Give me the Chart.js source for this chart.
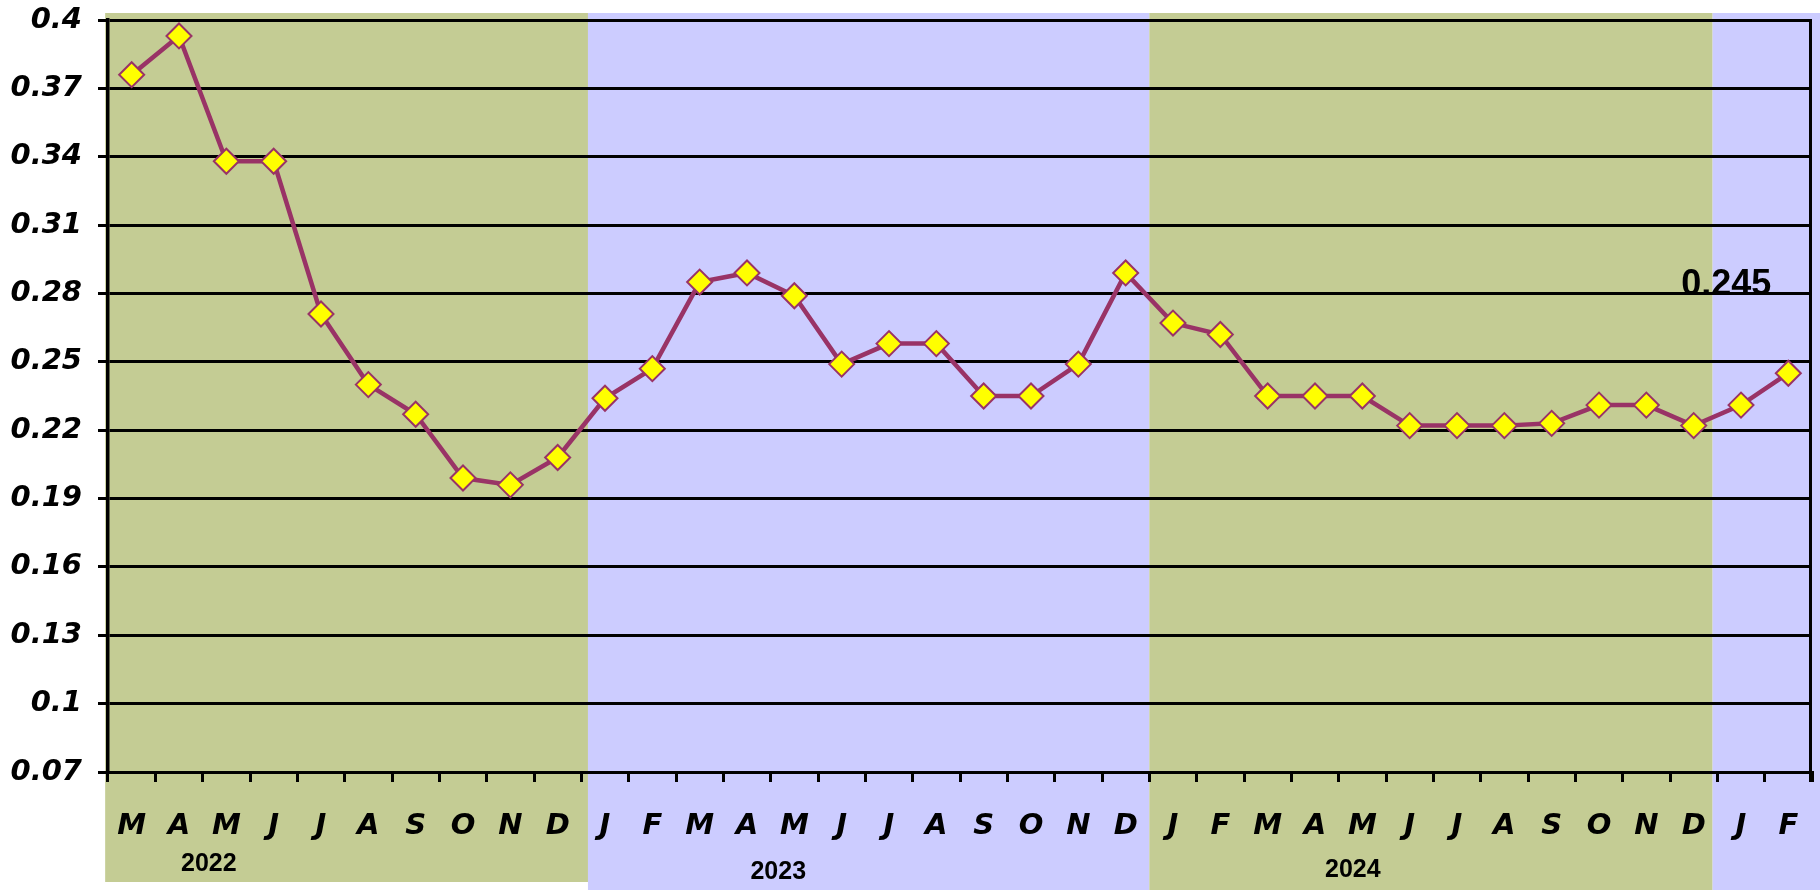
<!DOCTYPE html>
<html><head><meta charset="utf-8">
<script src="https://cdn.jsdelivr.net/npm/chart.js@4/dist/chart.umd.min.js"></script>
<style>html,body{margin:0;padding:0;background:#fff;overflow:hidden}</style>
</head><body>
<canvas id="c" width="1820" height="890"></canvas>
<script>
const months = ['M','A','M','J','J','A','S','O','N','D',
  'J','F','M','A','M','J','J','A','S','O','N','D',
  'J','F','M','A','M','J','J','A','S','O','N','D',
  'J','F'];
const values = [0.376,0.393,0.338,0.338,0.271,0.240,0.227,0.199,0.196,0.208,
  0.234,0.247,0.285,0.289,0.279,0.249,0.258,0.258,0.235,0.235,0.249,0.289,
  0.267,0.262,0.235,0.235,0.235,0.222,0.222,0.222,0.223,0.231,0.231,0.222,
  0.231,0.245];
const years = ['2022','2023','2024'];
const yTickValues = [0.07,0.10,0.13,0.16,0.19,0.22,0.25,0.28,0.31,0.34,0.37,0.40];
const yTickLabels = ['0.07','0.1','0.13','0.16','0.19','0.22','0.25','0.28','0.31','0.34','0.37','0.4'];
const lastLabel = '0.245';

const GREEN = '#C4CC94', BLUE = '#CCCCFF';

const decor = {
  id: 'decor',
  beforeDraw(chart, args, o) {
    const {ctx, scales:{x}} = chart;
    ctx.save();
    o.bands.forEach(b => {
      const x0 = x.getPixelForValue(b.from), x1 = x.getPixelForValue(b.to);
      ctx.fillStyle = b.color;
      ctx.fillRect(x0, b.top, x1 - x0, b.bottom - b.top);
    });
    ctx.restore();
  },
  afterDraw(chart, args, o) {
    const {ctx, chartArea:a, scales:{x, y}} = chart;
    ctx.save();
    ctx.strokeStyle = '#000'; ctx.lineWidth = 3;
    ctx.beginPath(); ctx.moveTo(a.right - 1.5, a.top - 1); ctx.lineTo(a.right - 1.5, a.bottom + 10); ctx.stroke();
    ctx.fillStyle = '#000'; ctx.textAlign = 'center'; ctx.textBaseline = 'middle';
    ctx.font = 'bold 25px "Liberation Sans", Arial, sans-serif';
    years.forEach((t, i) => ctx.fillText(t, x.getPixelForValue(o.yearPos[i]), o.yearY[i]));
    const last = values.length - 1;
    ctx.font = 'bold 36px "Liberation Sans", Arial, sans-serif';
    ctx.fillText(lastLabel, x.getPixelForValue(last) + o.labelDx, y.getPixelForValue(values[last]) + o.labelDy);
    ctx.restore();
  }
};

const tickFont = {family: '"DejaVu Sans", sans-serif', size: 29, style: 'italic', weight: 'bold'};

new Chart(document.getElementById('c'), {
  type: 'line',
  data: {
    labels: months,
    datasets: [{
      data: values,
      borderColor: '#993366',
      borderWidth: 4.5,
      tension: 0,
      pointStyle: 'rectRot',
      pointRadius: 12.5,
      pointBackgroundColor: '#FFFF00',
      pointBorderColor: '#993366',
      pointBorderWidth: 2,
      clip: false
    }]
  },
  options: {
    responsive: false,
    animation: false,
    devicePixelRatio: 1,
    layout: {autoPadding: false, padding: {top: 20, right: 8, left: 0, bottom: 0}},
    plugins: {
      legend: {display: false},
      tooltip: {enabled: false},
      decor: {
        bands: [
          {from: -0.56, to: 9.64, color: GREEN, top: 13, bottom: 882},
          {from: 9.64, to: 21.5, color: BLUE, top: 13, bottom: 890},
          {from: 21.5, to: 33.4, color: GREEN, top: 13, bottom: 890},
          {from: 33.4, to: 35.9, color: BLUE, top: 13, bottom: 890}
        ],
        yearPos: [1.63, 13.66, 25.8],
        yearY: [864, 872, 870],
        labelDx: -62,
        labelDy: -88
      }
    },
    scales: {
      x: {
        type: 'category',
        offset: true,
        grid: {display: true, offset: true, drawOnChartArea: false, drawTicks: true, tickLength: 10, color: '#000', lineWidth: 3},
        border: {display: true, color: '#000', width: 3},
        ticks: {color: '#000', font: tickFont, padding: 27, maxRotation: 0, autoSkip: false},
        afterFit(s) { s.height = 118; s.paddingLeft = 0; s.paddingRight = 0; }
      },
      y: {
        min: 0.07, max: 0.4,
        afterBuildTicks(s) { s.ticks = yTickValues.map(v => ({value: v})); },
        grid: {color: '#000', lineWidth: 3, tickLength: 10, drawTicks: true},
        border: {display: true, color: '#000', width: 3.5},
        ticks: {color: '#000', font: tickFont, padding: 16, callback: (v, i) => yTickLabels[i]},
        afterFit(s) { s.width = 108; s.paddingTop = 0; s.paddingBottom = 0; }
      }
    }
  },
  plugins: [decor]
});
</script>
</body></html>
